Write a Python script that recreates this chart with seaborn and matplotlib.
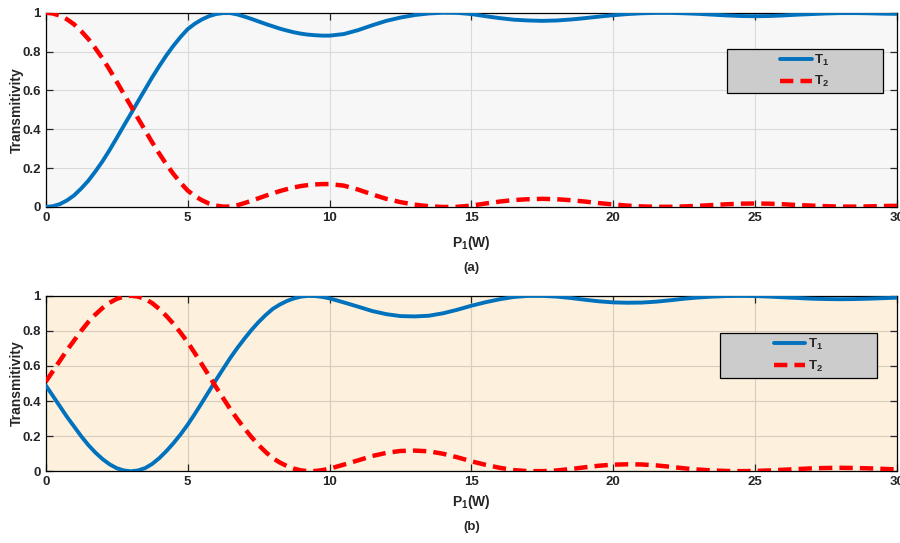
import numpy as np
import pandas as pd
import seaborn as sns
import matplotlib.pyplot as plt
from matplotlib.patches import Rectangle

# Input power P1 (W): 0.25 W steps up to 10 W, then 0.5 W steps
p1 = list(np.arange(0, 10.25, 0.25)) + list(np.arange(10.5, 30.5, 0.5))

# Panel (a)
t1_a = [0.0, 0.004, 0.015, 0.034, 0.06, 0.095, 0.135, 0.183, 0.235, 0.293,
        0.355, 0.418, 0.48, 0.543, 0.605, 0.667, 0.725, 0.78, 0.83, 0.875,
        0.915, 0.943, 0.965, 0.982, 0.993, 0.998, 0.998, 0.991, 0.98, 0.968,
        0.955, 0.942, 0.93, 0.918, 0.908, 0.899, 0.892, 0.887, 0.884, 0.882,
        0.882,
        0.89, 0.91, 0.935, 0.958, 0.975, 0.988, 0.996, 1.0, 0.999, 0.993,
        0.982, 0.972, 0.964, 0.96, 0.958, 0.96, 0.965, 0.972, 0.98, 0.987,
        0.993, 0.997, 0.999, 0.999, 0.997, 0.994, 0.99, 0.986, 0.983, 0.982,
        0.983, 0.986, 0.99, 0.993, 0.996, 0.998, 0.998, 0.997, 0.995, 0.994]
t2_a = [1.0, 0.996, 0.985, 0.966, 0.94, 0.905, 0.865, 0.817, 0.765, 0.707,
        0.645, 0.582, 0.52, 0.457, 0.395, 0.333, 0.275, 0.22, 0.17, 0.125,
        0.085, 0.057, 0.035, 0.018, 0.007, 0.002, 0.002, 0.009, 0.02, 0.032,
        0.045, 0.058, 0.07, 0.082, 0.092, 0.101, 0.108, 0.113, 0.116, 0.118,
        0.118,
        0.11, 0.09, 0.065, 0.042, 0.025, 0.012, 0.004, 0.0, 0.001, 0.007,
        0.018, 0.028, 0.036, 0.04, 0.042, 0.04, 0.035, 0.028, 0.02, 0.013,
        0.007, 0.003, 0.001, 0.001, 0.003, 0.006, 0.01, 0.014, 0.017, 0.018,
        0.017, 0.014, 0.01, 0.007, 0.004, 0.002, 0.002, 0.003, 0.005, 0.006]

# Panel (b)
t1_b = [0.49, 0.43, 0.37, 0.31, 0.255, 0.2, 0.15, 0.107, 0.07, 0.04,
        0.018, 0.005, 0.0, 0.005, 0.018, 0.042, 0.075, 0.115, 0.16, 0.21,
        0.265, 0.326, 0.39, 0.455, 0.52, 0.583, 0.645, 0.702, 0.755, 0.805,
        0.85, 0.89, 0.925, 0.95, 0.97, 0.985, 0.995, 0.999, 0.998, 0.993,
        0.985,
        0.962, 0.938, 0.913, 0.895, 0.884, 0.882, 0.886, 0.9, 0.92, 0.943,
        0.963, 0.98, 0.993, 0.999, 0.999, 0.995, 0.987, 0.977, 0.968, 0.962,
        0.96, 0.961, 0.966, 0.974, 0.983, 0.99, 0.995, 0.998, 0.999, 0.998,
        0.995, 0.991, 0.987, 0.983, 0.981, 0.98, 0.981, 0.983, 0.986, 0.989]
t2_b = [0.51, 0.57, 0.63, 0.69, 0.745, 0.8, 0.85, 0.893, 0.93, 0.96,
        0.982, 0.995, 1.0, 0.995, 0.982, 0.958, 0.925, 0.885, 0.84, 0.79,
        0.735, 0.674, 0.61, 0.545, 0.48, 0.417, 0.355, 0.298, 0.245, 0.195,
        0.15, 0.11, 0.075, 0.05, 0.03, 0.015, 0.005, 0.001, 0.002, 0.007,
        0.015,
        0.038, 0.062, 0.087, 0.105, 0.116, 0.118, 0.114, 0.1, 0.08, 0.057,
        0.037, 0.02, 0.007, 0.001, 0.001, 0.005, 0.013, 0.023, 0.032, 0.038,
        0.04, 0.039, 0.034, 0.026, 0.017, 0.01, 0.005, 0.002, 0.001, 0.002,
        0.005, 0.009, 0.013, 0.017, 0.019, 0.02, 0.019, 0.017, 0.014, 0.011]

sns.set_style("ticks")
plt.rcParams['font.family'] = ['Liberation Sans Narrow', 'Liberation Sans', 'DejaVu Sans']
plt.rcParams['font.weight'] = 'bold'
plt.rcParams['mathtext.fontset'] = 'custom'
plt.rcParams['mathtext.rm'] = 'Liberation Sans'
plt.rcParams['mathtext.bf'] = 'Liberation Sans:bold'
plt.rcParams['mathtext.default'] = 'bf'

W, H = 900, 543
fig = plt.figure(figsize=(9, 5.43), dpi=100)
ax_a = fig.add_axes([0.0508, 0.6188, 0.946, 0.3578])
ax_b = fig.add_axes([0.0508, 0.132, 0.946, 0.3234])

# (axes, T1, T2, face, grid colour, tag, legend box in axes coords, label offsets in px)
panels = [
    (ax_a, t1_a, t2_a, "#F7F7F7", "#DADADA", "(a)", (0.800, 0.587, 0.183, 0.226), (36, 61)),
    (ax_b, t1_b, t2_b, "#FDF0DC", "#D8CCBC", "(b)", (0.792, 0.531, 0.184, 0.257), (31, 56)),
]

for ax, t1, t2, face, gridc, tag, box, offs in panels:
    df = pd.DataFrame({"P1": p1, "T1": t1, "T2": t2})
    ax.set_facecolor(face)
    sns.lineplot(data=df, x="P1", y="T1", ax=ax, color="#0072BD", linewidth=2.8,
                 label="T$_1$", zorder=3)
    sns.lineplot(data=df, x="P1", y="T2", ax=ax, color="#FF0000", linewidth=3.2,
                 label="T$_2$", zorder=3)
    ax.lines[0].set_solid_joinstyle("round")
    ax.lines[1].set_dashes((3.0, 1.6))
    ax.set_xlim(0, 30)
    ax.set_ylim(0, 1)
    ax.set_xticks(range(0, 31, 5))
    ax.set_yticks([0, 0.2, 0.4, 0.6, 0.8, 1])
    ax.set_yticklabels(["0", "0.2", "0.4", "0.6", "0.8", "1"])
    ax.grid(True, color=gridc, linewidth=0.8)
    ax.set_axisbelow(True)
    ax.tick_params(direction="in", length=5, top=True, right=True,
                   labelsize=9.5, width=0.9)
    for s in ax.spines.values():
        s.set_linewidth(0.9)
        s.set_color("black")
    ax.set_xlabel("")
    ax.set_ylabel("Transmitivity", fontsize=10, fontweight="bold", labelpad=-1)
    # legend with a wide grey box
    ax.add_patch(Rectangle((box[0], box[1]), box[2], box[3], transform=ax.transAxes,
                           facecolor="#CCCCCC", edgecolor="black", linewidth=0.9,
                           zorder=4))
    leg = ax.legend(loc="center", bbox_to_anchor=(box[0] + box[2] / 2, box[1] + box[3] / 2),
                    frameon=False, fontsize=9.5, handlelength=2.4, handletextpad=0.2,
                    labelspacing=0.5)
    leg.set_zorder(5)
    pos = ax.get_position()
    xc = (pos.x0 + pos.x1) / 2
    fig.text(xc, pos.y0 - offs[0] / H, "P$_1$(W)", ha="center",
             va="center", fontsize=10, fontweight="bold")
    fig.text(xc, pos.y0 - offs[1] / H, tag, ha="center",
             va="center", fontsize=9.5, fontweight="bold")

fig.savefig("out.png", dpi=100)
